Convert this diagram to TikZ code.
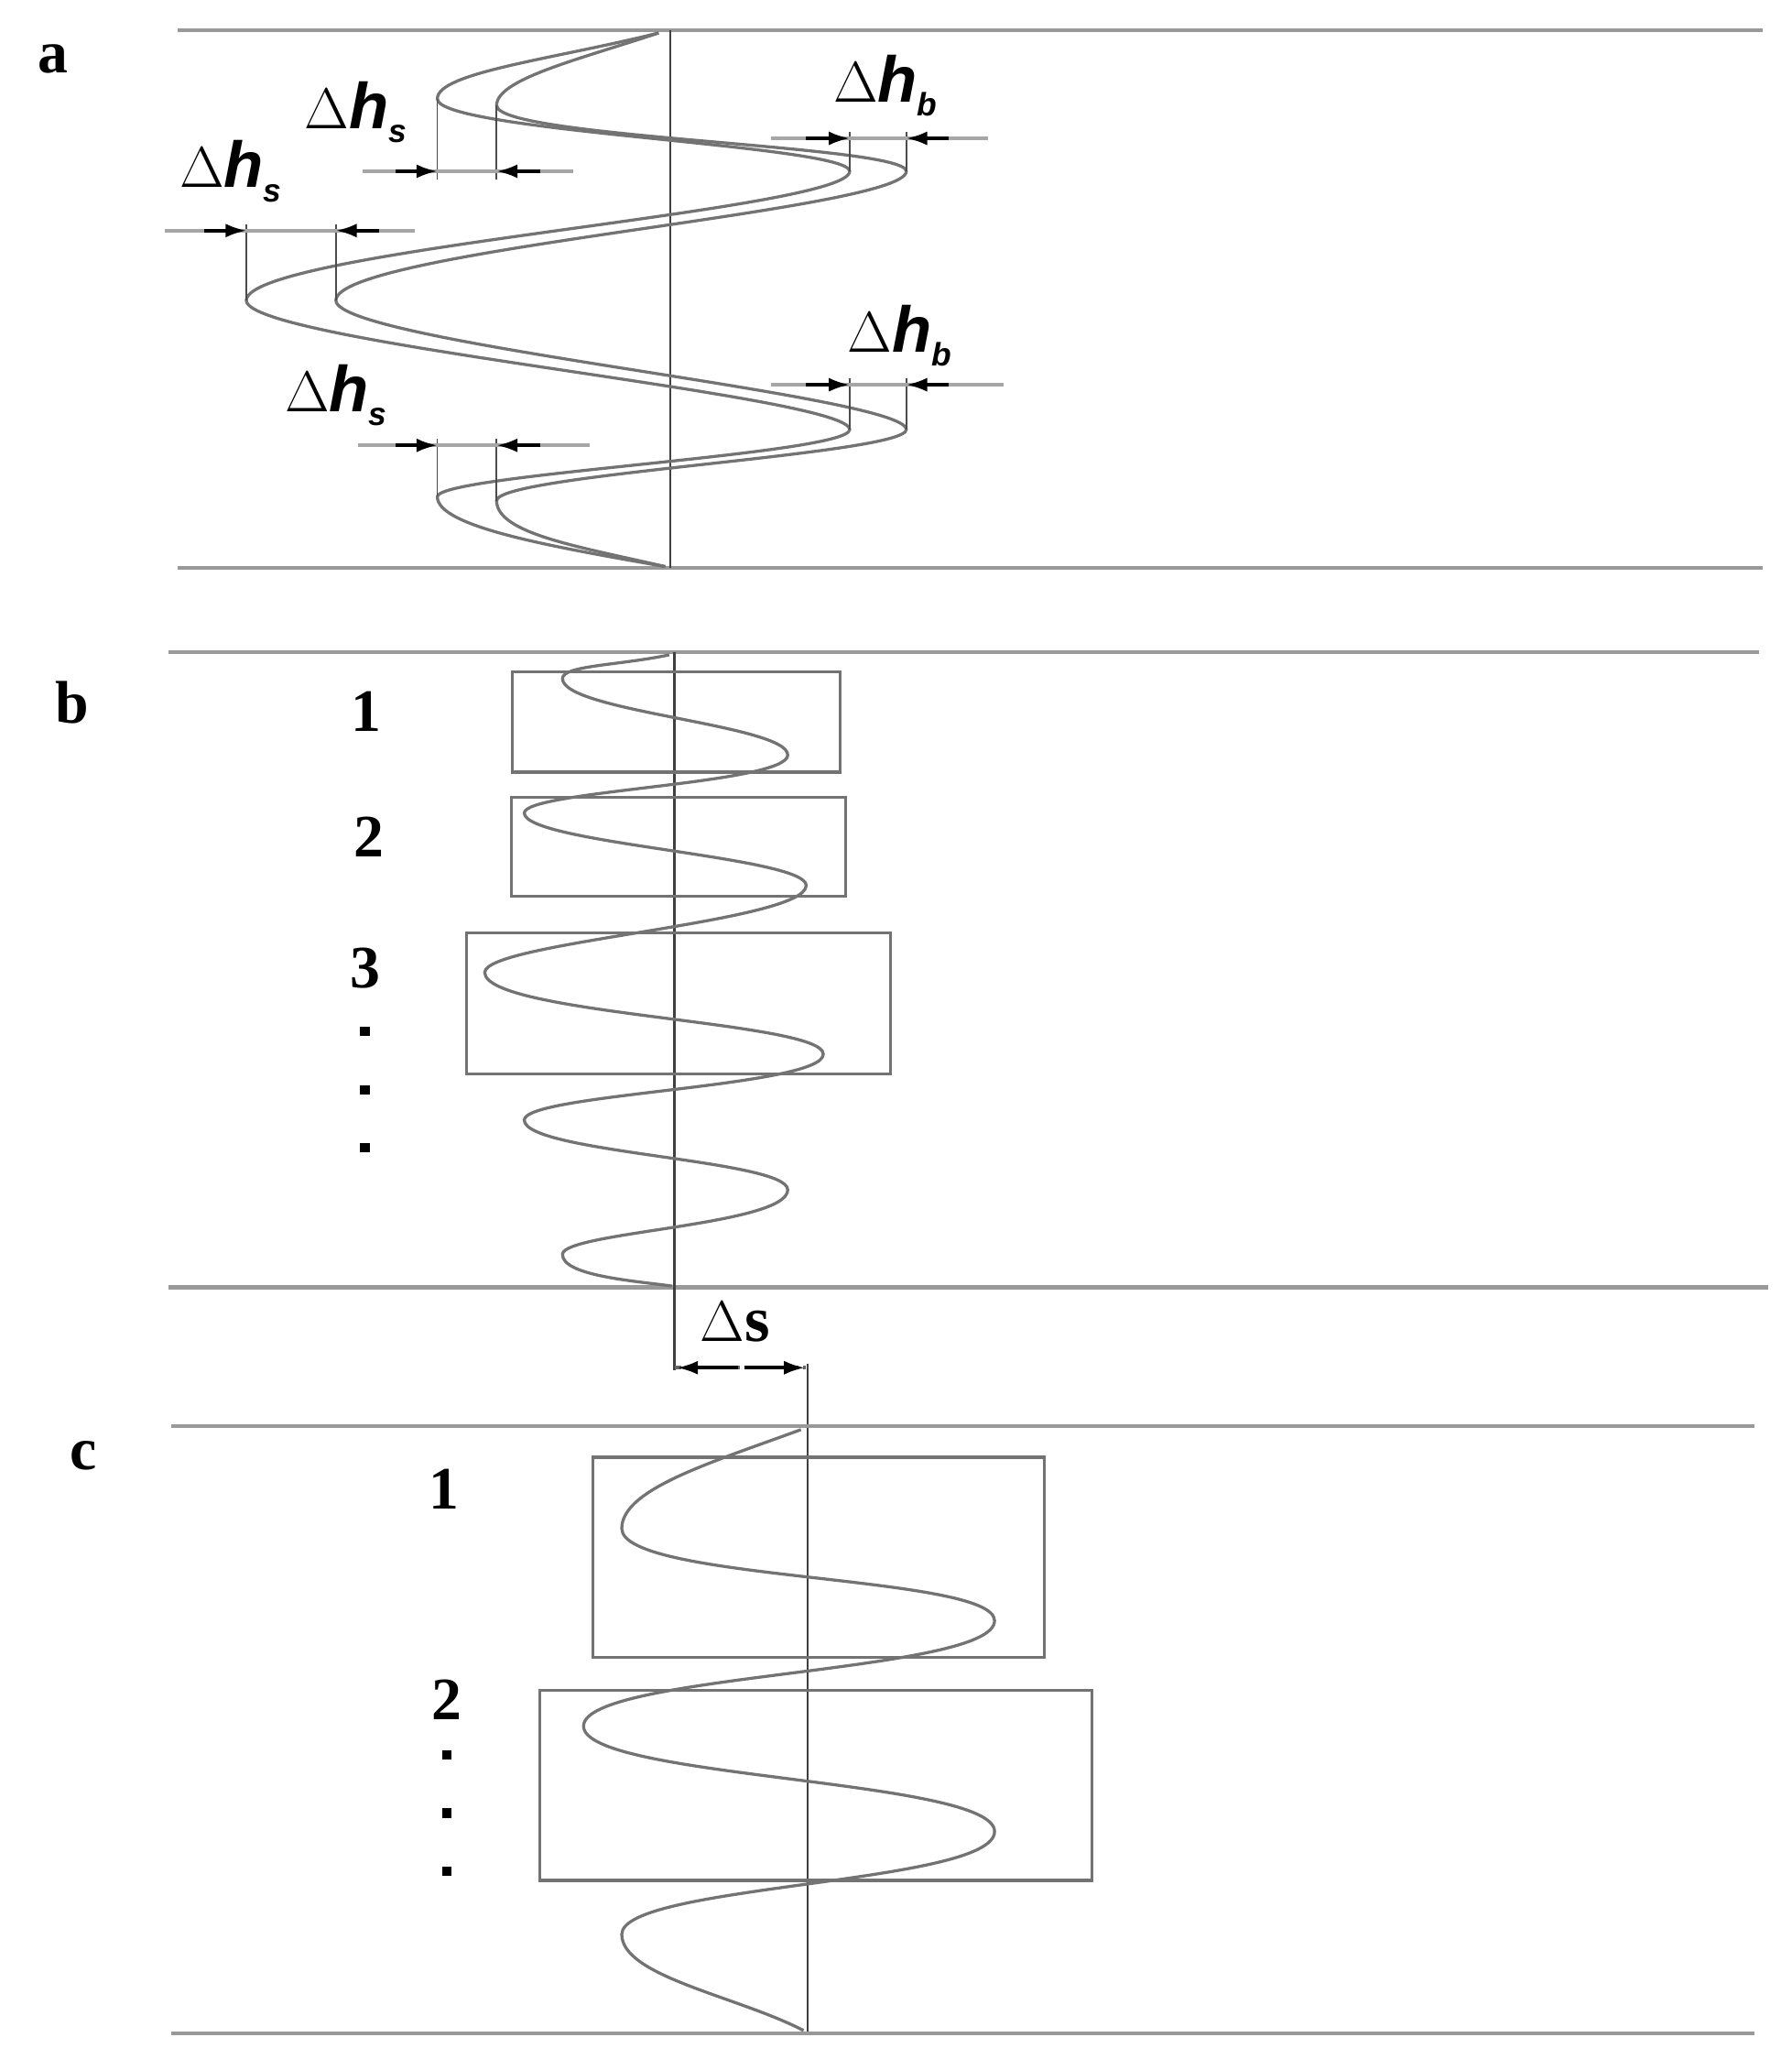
\documentclass[tikz,border=0pt]{standalone}
\usepackage{fontspec}
\setmainfont{Liberation Serif}
\newfontfamily\lsans{Liberation Sans}
\usetikzlibrary{arrows.meta}
\begin{document}
\begin{tikzpicture}[x=0.02cm,y=-0.02cm,
  rail/.style={draw=gray!80,line width=1.6pt},
  ax/.style={draw=black!75,line width=0.9pt},
  wave/.style={draw=gray!90!black,line width=1.3pt},
  box/.style={draw=gray!90!black,line width=1.3pt},
  ext/.style={draw=black!70,line width=0.7pt},
  dim/.style={draw=gray!70,line width=1.4pt},
  tip/.style={-{Latex[length=9pt,width=6pt]},line width=1.4pt,draw=black},
  lab/.style={font=\fontsize{26}{28}\selectfont\bfseries},
  dot/.style={fill=black,minimum size=4pt,inner sep=0pt},
  dl/.style={font=\lsans\fontsize{28}{30}\selectfont\bfseries,inner sep=0pt}]
\useasboundingbox (0,0) rectangle (1360,1571);
% ---------- panel a
\draw[rail] (135,23) -- (1338,23);
\draw[rail] (135,431) -- (1338,431);
\draw[ax] (509,23) -- (509,431);
\node[lab] (la) at (40,45) {a};
\draw[wave] (500,25) .. controls (420,45) and (332,55) .. (332,75)
  .. controls (332,100) and (645,110) .. (645,130)
  .. controls (645,160) and (187,190) .. (187,228)
  .. controls (187,260) and (645,300) .. (645,326)
  .. controls (645,345) and (332,360) .. (332,377)
  .. controls (332,400) and (420,415) .. (505,430);
\draw[wave] (500,25) .. controls (440,45) and (377,60) .. (377,80)
  .. controls (377,105) and (688,110) .. (688,130)
  .. controls (688,160) and (255,190) .. (255,228)
  .. controls (255,260) and (688,300) .. (688,326)
  .. controls (688,345) and (377,360) .. (377,380)
  .. controls (377,405) and (440,415) .. (505,430);
% dimension lines
\draw[ext] (332,75) -- (332,136); \draw[ext] (377,80) -- (377,136);
\draw[dim] (275,130) -- (435,130);
\draw[tip] (300,130) -- (332,130); \draw[tip] (410,130) -- (377,130);
\node[dl] (t1) at (270,85) {$\Delta$\textit{h}\raisebox{-6pt}{\fontsize{14}{14}\selectfont\textit{s}}};
\draw[ext] (187,170) -- (187,228); \draw[ext] (255,170) -- (255,228);
\draw[dim] (125,175) -- (315,175);
\draw[tip] (155,175) -- (187,175); \draw[tip] (288,175) -- (255,175);
\node[dl] (t2) at (175,130) {$\Delta$\textit{h}\raisebox{-6pt}{\fontsize{14}{14}\selectfont\textit{s}}};
\draw[ext] (645,100) -- (645,130); \draw[ext] (688,100) -- (688,130);
\draw[dim] (585,105) -- (750,105);
\draw[tip] (612,105) -- (645,105); \draw[tip] (720,105) -- (688,105);
\node[dl] (t3) at (672,65) {$\Delta$\textit{h}\raisebox{-6pt}{\fontsize{14}{14}\selectfont\textit{b}}};
\draw[ext] (645,287) -- (645,326); \draw[ext] (688,287) -- (688,326);
\draw[dim] (585,292) -- (762,292);
\draw[tip] (612,292) -- (645,292); \draw[tip] (720,292) -- (688,292);
\node[dl] (t4) at (683,255) {$\Delta$\textit{h}\raisebox{-6pt}{\fontsize{14}{14}\selectfont\textit{b}}};
\draw[ext] (332,333) -- (332,377); \draw[ext] (377,333) -- (377,380);
\draw[dim] (272,338) -- (448,338);
\draw[tip] (300,338) -- (332,338); \draw[tip] (410,338) -- (377,338);
\node[dl] (t5) at (255,300) {$\Delta$\textit{h}\raisebox{-6pt}{\fontsize{14}{14}\selectfont\textit{s}}};
% ---------- panel b
\draw[rail] (128,495) -- (1335,495);
\draw[rail] (128,977) -- (1342,977);
\draw[ax] (512,495) -- (512,1040);
\node[lab] (lb) at (55,533) {b};
\draw[wave] (508,497) .. controls (470,505) and (427,505) .. (427,515)
  .. controls (427,540) and (598,550) .. (598,573)
  .. controls (598,595) and (398,600) .. (398,617)
  .. controls (398,640) and (612,650) .. (612,672)
  .. controls (612,700) and (368,715) .. (368,738)
  .. controls (368,770) and (625,775) .. (625,800)
  .. controls (625,825) and (398,830) .. (398,850)
  .. controls (398,875) and (598,880) .. (598,903)
  .. controls (598,930) and (427,935) .. (427,952)
  .. controls (427,968) and (480,972) .. (510,976);
\draw[box] (389,510) rectangle (638,586);
\draw[box] (388,605) rectangle (642,680);
\draw[box] (354,708) rectangle (676,815);
\node[lab] (n1) at (278,540) {1};
\node[lab] (n2) at (280,635) {2};
\node[lab] (n3) at (277,735) {3};
\foreach \y in {783,827,871} \node[dot] at (277,\y) {};
% ---------- delta s
\draw[ax] (613,1035) -- (613,1543);
\draw[dim,dashdotted,draw=black!60] (512,1038) -- (613,1038);
\draw[tip] (560,1038) -- (514,1038); \draw[tip] (565,1038) -- (611,1038);
\node[dl,font=\fontsize{28}{30}\selectfont\bfseries] (ds) at (558,1003) {$\Delta$s};
% ---------- panel c
\draw[rail] (130,1082) -- (1332,1082);
\draw[rail] (130,1543) -- (1332,1543);
\node[lab] (lc) at (63,1105) {c};
\draw[wave] (608,1085) .. controls (540,1110) and (472,1130) .. (472,1160)
  .. controls (472,1200) and (755,1195) .. (755,1230)
  .. controls (755,1270) and (443,1270) .. (443,1310)
  .. controls (443,1350) and (755,1350) .. (755,1390)
  .. controls (755,1430) and (472,1430) .. (472,1468)
  .. controls (472,1500) and (560,1515) .. (610,1541);
\draw[box] (450,1106) rectangle (793,1258);
\draw[box] (410,1283) rectangle (829,1427);
\node[lab] (m1) at (337,1130) {1};
\node[lab] (m2) at (339,1290) {2};
\foreach \y in {1332,1376,1420} \node[dot] at (339,\y) {};
\end{tikzpicture}
\end{document}
